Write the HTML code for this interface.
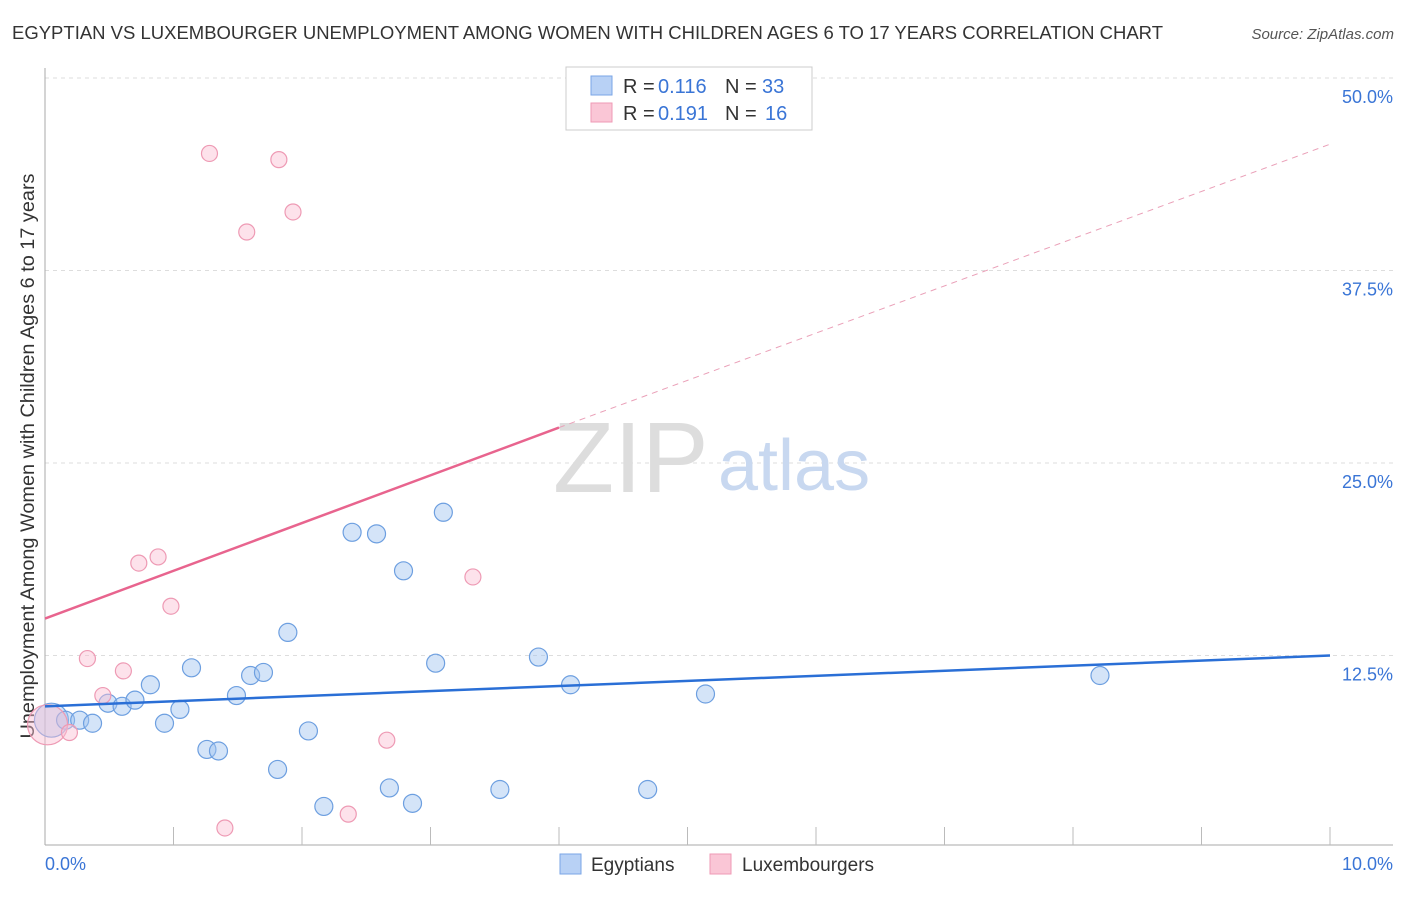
<!DOCTYPE html>
<html><head><meta charset="utf-8"><style>
body{margin:0;background:#fff;font-family:"Liberation Sans",sans-serif;}
svg text{font-family:"Liberation Sans",sans-serif;}
</style></head><body>
<svg id="chart" width="1406" height="892" xmlns="http://www.w3.org/2000/svg">
<text x="12" y="39" font-size="18.5" fill="#333" textLength="1151" lengthAdjust="spacingAndGlyphs">EGYPTIAN VS LUXEMBOURGER UNEMPLOYMENT AMONG WOMEN WITH CHILDREN AGES 6 TO 17 YEARS CORRELATION CHART</text>
<text x="1394" y="39" font-size="15" fill="#555" font-style="italic" text-anchor="end">Source: ZipAtlas.com</text>
<g id="grid"></g>
<text x="553" y="492" font-size="100" fill="#ddd" font-family="Liberation Serif">ZIP</text>
<text x="718" y="490" font-size="72" fill="#c8d8f0">atlas</text>
<text transform="translate(34,456) rotate(-90)" font-size="19" fill="#333" text-anchor="middle" textLength="565" lengthAdjust="spacingAndGlyphs">Unemployment Among Women with Children Ages 6 to 17 years</text>
<g id="marks"></g>
<g>
<rect x="566" y="67" width="246" height="63" fill="#fff" stroke="#ccc"/>
<rect x="591" y="76" width="21" height="19" fill="#b8d1f5" stroke="#7aa5e6"/>
<rect x="591" y="103" width="21" height="19" fill="#fac6d6" stroke="#ef9ab5"/>
<text x="623" y="93" font-size="20" fill="#333">R =</text><text x="658" y="93" font-size="20" fill="#3a75d6">0.116</text>
<text x="725" y="93" font-size="20" fill="#333">N =</text><text x="762" y="93" font-size="20" fill="#3a75d6">33</text>
<text x="623" y="120" font-size="20" fill="#333">R =</text><text x="658" y="120" font-size="20" fill="#3a75d6">0.191</text>
<text x="725" y="120" font-size="20" fill="#333">N =</text><text x="765" y="120" font-size="20" fill="#3a75d6">16</text>
</g>
<g>
<rect x="560" y="854" width="21" height="20" fill="#b8d1f5" stroke="#7aa5e6"/>
<text x="591" y="871" font-size="19" fill="#333">Egyptians</text>
<rect x="710" y="854" width="21" height="20" fill="#fac6d6" stroke="#ef9ab5"/>
<text x="742" y="871" font-size="19" fill="#333">Luxembourgers</text>
</g>
<text x="45" y="870" font-size="18" fill="#3a75d6">0.0%</text>
<text x="1393" y="870" font-size="18" fill="#3a75d6" text-anchor="end">10.0%</text>
</svg>
<script>
const yTicks=[12.5,25,37.5,50];
const blueX=[0.05,0.16,0.27,0.37,0.49,0.60,0.70,0.82,0.93,1.05,1.14,1.26,1.35,1.49,1.60,1.70,1.81,1.89,2.05,2.17,2.39,2.58,2.68,2.79,2.86,3.04,3.10,3.54,3.84,4.09,4.69,5.14,8.21];
const blueY=[8.3,8.3,8.3,8.1,9.4,9.2,9.6,10.6,8.1,9.0,11.7,6.4,6.3,9.9,11.2,11.4,5.1,14.0,7.6,2.7,20.5,20.4,3.9,18.0,2.9,12.0,21.8,3.8,12.4,10.6,3.8,10.0,11.2];
const pinkX=[0.02,0.19,0.33,0.45,0.61,0.73,0.88,0.98,1.28,1.40,1.57,1.82,1.93,2.36,2.66,3.33];
const pinkY=[8.0,7.5,12.3,9.9,11.5,18.5,18.9,15.7,45.1,1.3,40.0,44.7,41.3,2.2,7.0,17.6];
const blueTrend=[0,9.2,10,12.5];
const pinkTrend=[0,14.9,4,27.3,10,45.7];
const X0=45,X1=1330,Y0=848,PPY=15.4;
const sx=v=>X0+(X1-X0)*v/10, sy=v=>Y0-v*PPY;
const NS="http://www.w3.org/2000/svg";
const grid=document.getElementById('grid'),marks=document.getElementById('marks');
function mk(tag,at,parent){const e=document.createElementNS(NS,tag);for(const k in at)e.setAttribute(k,at[k]);parent.appendChild(e);return e;}
yTicks.forEach(t=>{
 const l=mk('line',{x1:45,x2:1393,y1:sy(t),y2:sy(t),stroke:'#ddd','stroke-dasharray':'4,4'},grid);
 
 
 const tx=mk('text',{x:1393,y:sy(t)+25,'font-size':18,fill:'#3a75d6','text-anchor':'end'},grid);
 tx.textContent=t.toFixed(1)+'%';
 
 
});
const ax=mk('line',{x1:45,x2:1393,y1:845,y2:845,stroke:'#aaa'},grid);


const ay=mk('line',{x1:45,x2:45,y1:68,y2:845,stroke:'#aaa'},grid);


for(let i=1;i<=10;i++){const t=mk('line',{x1:45+128.5*i,x2:45+128.5*i,y1:827,y2:845,stroke:'#bbb'},grid);
 
 }
blueX.forEach((v,i)=>{const c=mk('circle',{cx:sx(v),cy:sy(blueY[i]),r:i==0?17:9,fill:'rgba(160,195,240,0.45)',stroke:'#6d9fe0','stroke-width':1.2},marks);
 
 });
pinkX.forEach((v,i)=>{const c=mk('circle',{cx:sx(v),cy:sy(pinkY[i]),r:i==0?20:8,fill:'rgba(250,190,210,0.45)',stroke:'#ee9ab4','stroke-width':1.2},marks);
 
 });
const bt=mk('line',{x1:sx(blueTrend[0]),y1:sy(blueTrend[1]),x2:sx(blueTrend[2]),y2:sy(blueTrend[3]),stroke:'#2a6fd6','stroke-width':2.5},marks);


const pt=mk('line',{x1:sx(pinkTrend[0]),y1:sy(pinkTrend[1]),x2:sx(pinkTrend[2]),y2:sy(pinkTrend[3]),stroke:'#e8648e','stroke-width':2.5},marks);


const pd=mk('line',{x1:sx(pinkTrend[2]),y1:sy(pinkTrend[3]),x2:sx(pinkTrend[4]),y2:sy(pinkTrend[5]),stroke:'#eaa0b8','stroke-width':1,'stroke-dasharray':'6,5'},marks);


</script>
</body></html>
